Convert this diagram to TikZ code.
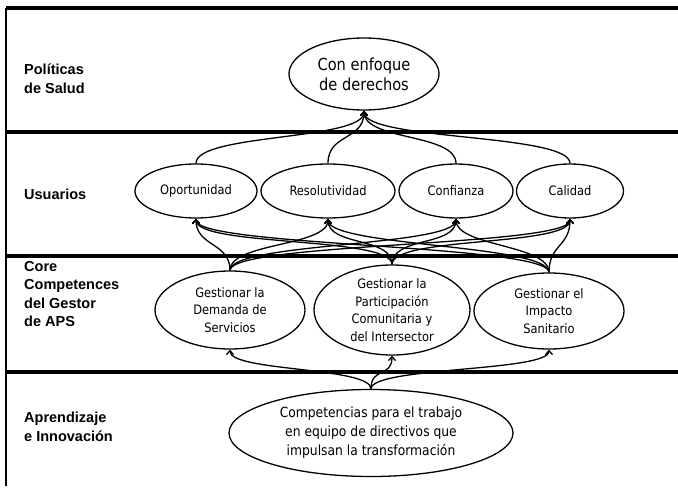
\documentclass[tikz,border=0pt]{standalone}
\usepackage{fontspec}
\setmainfont{DejaVu Sans}[FakeStretch=0.88]
\newfontfamily\lblfont{Liberation Sans}
\usetikzlibrary{shapes.geometric,arrows.meta}
\begin{document}
\begin{tikzpicture}[x=1bp,y=-1bp,
  ell/.style={ellipse,draw,line width=1.3bp,inner sep=-2bp,align=center},
  fs/.style={font=\fontsize{13bp}{17.5bp}\selectfont},
  lbl/.style={anchor=west,align=left,inner sep=0pt,font=\lblfont\bfseries\fontsize{14.5bp}{18.5bp}\selectfont},
  sepline/.style={line width=4bp},
  link/.style={line width=1.3bp},
  arr/.style={link,-{Straight Barb[length=4bp,width=7bp]}}]
\useasboundingbox (0,0) rectangle (678,492);
% frame
\draw[line width=1.3bp] (6,8) -- (6,486);
\foreach \yy in {8,132,256,372} \draw[sepline] (6,\yy) -- (678,\yy);
% labels
\node[lbl] (l1) at (24,79) {Políticas\\de Salud};
\node[lbl] (l2) at (24,194) {Usuarios};
\node[lbl] (l3) at (24,294) {Core\\Competences\\del Gestor\\de APS};
\node[lbl] (l4) at (24,427) {Aprendizaje\\e Innovación};
% ellipses
\node[ell,minimum width=150bp,minimum height=72bp,font=\fontsize{16.6bp}{20bp}\selectfont] (top) at (364,74) {Con enfoque\\de derechos};
\node[ell,fs,minimum width=122bp,minimum height=54bp] (u1) at (196,191) {Oportunidad};
\node[ell,fs,minimum width=134bp,minimum height=54bp] (u2) at (328,191) {Resolutividad};
\node[ell,fs,minimum width=114bp,minimum height=54bp] (u3) at (456,191) {Confianza};
\node[ell,fs,minimum width=107bp,minimum height=54bp] (u4) at (570,191) {Calidad};
\node[ell,fs,minimum width=150bp,minimum height=78bp] (c1) at (230,310) {Gestionar la\\Demanda de\\Servicios};
\node[ell,fs,minimum width=156bp,minimum height=90bp] (c2) at (392,310) {Gestionar la\\Participación\\Comunitaria y\\del Intersector};
\node[ell,fs,minimum width=150bp,minimum height=76bp] (c3) at (549,311) {Gestionar el\\Impacto\\Sanitario};
\node[ell,minimum width=284bp,minimum height=87bp,font=\fontsize{14bp}{19bp}\selectfont] (b) at (371,433) {Competencias para el trabajo\\en equipo de directivos que\\impulsan la transformación};
% connectors
\foreach \u in {u1,u2,u3,u4}
  \draw[arr] (\u.north) .. controls +(0,-30) and +(0,30) .. (top.south);
\foreach \c in {c1,c2,c3}
  \foreach \u in {u1,u2,u3,u4}
    \draw[arr] (\c.north) .. controls +(0,-28) and +(0,28) .. (\u.south);
\foreach \c in {c1,c2,c3}
  \draw[arr] (b.north) .. controls +(0,-22) and +(0,22) .. (\c.south);
\end{tikzpicture}
\end{document}
